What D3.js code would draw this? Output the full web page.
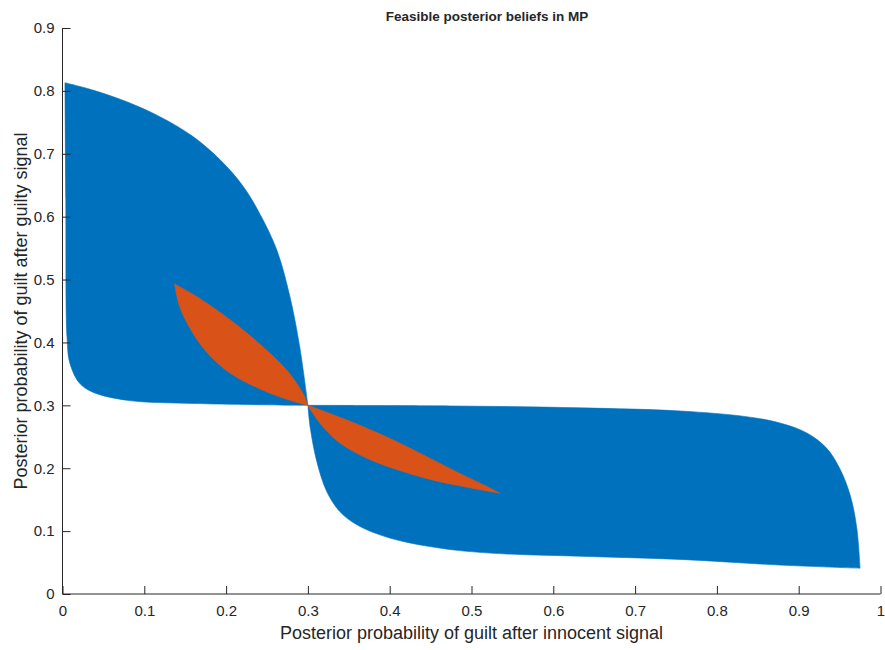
<!DOCTYPE html>
<html>
<head>
<meta charset="utf-8">
<script src="https://cdn.jsdelivr.net/npm/d3@7"></script>
<style>
  html, body { margin: 0; padding: 0; background: #fff; }
  svg { display: block; }
  text { font-family: "Liberation Sans", Arial, Helvetica, sans-serif; fill: #262626; }
</style>
</head>
<body>
<svg id="chart" width="885" height="650"></svg>
<script>
// ---- Data ----
const xTicks = [0, 0.1, 0.2, 0.3, 0.4, 0.5, 0.6, 0.7, 0.8, 0.9, 1];
const yTicks = [0, 0.1, 0.2, 0.3, 0.4, 0.5, 0.6, 0.7, 0.8, 0.9];

// Blue feasible region: upper-left lobe (top curve then left/bottom edge back)
const blueTopCurve = [
  [0.003, 0.813], [0.038, 0.801], [0.078, 0.783], [0.119, 0.759], [0.160, 0.727],
  [0.193, 0.690], [0.221, 0.648], [0.241, 0.605], [0.262, 0.547], [0.278, 0.473],
  [0.290, 0.393], [0.300, 0.300]
];
const blueLeftEdge = [
  [0.300, 0.300], [0.160, 0.303], [0.079, 0.308], [0.037, 0.321], [0.021, 0.335],
  [0.009, 0.367], [0.0055, 0.409], [0.004, 0.626], [0.003, 0.813]
];
// Blue feasible region: lower-right lobe (top edge then bottom curve back)
const blueRightTop = [
  [0.300, 0.300], [0.474, 0.299], [0.633, 0.296], [0.755, 0.291], [0.836, 0.282],
  [0.877, 0.272], [0.910, 0.256], [0.934, 0.232], [0.950, 0.200], [0.963, 0.157],
  [0.971, 0.105], [0.975, 0.041]
];
const blueBottomCurve = [
  [0.975, 0.041], [0.877, 0.046], [0.755, 0.055], [0.633, 0.060], [0.523, 0.065],
  [0.461, 0.073], [0.400, 0.089], [0.360, 0.110], [0.339, 0.131], [0.323, 0.163],
  [0.311, 0.210], [0.303, 0.263], [0.300, 0.300]
];

// Orange region: upper-left lens
const orangeUpperA = [
  [0.137, 0.493], [0.164, 0.473], [0.205, 0.436], [0.245, 0.393], [0.274, 0.356],
  [0.294, 0.319], [0.300, 0.300]
];
const orangeUpperB = [
  [0.300, 0.300], [0.278, 0.308], [0.245, 0.324], [0.205, 0.351], [0.176, 0.385],
  [0.156, 0.422], [0.143, 0.458], [0.137, 0.493]
];
// Orange region: lower-right lens
const orangeLowerA = [
  [0.300, 0.300], [0.327, 0.287], [0.368, 0.266], [0.409, 0.242], [0.449, 0.216],
  [0.490, 0.189], [0.519, 0.171], [0.535, 0.160]
];
const orangeLowerB = [
  [0.535, 0.160], [0.494, 0.170], [0.453, 0.181], [0.413, 0.196],
  [0.372, 0.216], [0.339, 0.240], [0.315, 0.271], [0.300, 0.300]
];

const titleText = "Feasible posterior beliefs in MP";
const xLabel = "Posterior probability of guilt after innocent signal";
const yLabel = "Posterior probability of guilt after guilty signal";

// ---- Layout ----
const svg = d3.select("#chart");
const plotLeft = 62.5, plotRight = 880.5, plotTop = 28, plotBottom = 594;
const x = d3.scaleLinear().domain([0, 1]).range([plotLeft, plotRight]);
const y = d3.scaleLinear().domain([0, 0.9]).range([plotBottom, plotTop]);

const line = d3.line().x(d => x(d[0])).y(d => y(d[1])).curve(d3.curveCatmullRom.alpha(0.5));

function lensShape(a, b, color) {
  const pa = line(a);
  const pb = line(b).replace(/^M[^CL]*/, "L" + x(b[0][0]) + "," + y(b[0][1]));
  svg.append("path")
    .attr("d", pa + pb + "Z")
    .attr("fill", color)
    .attr("stroke", color)
    .attr("stroke-width", 0.6)
    .attr("stroke-linejoin", "round");
}

const blue = "#0072BD", orange = "#D95319";
lensShape(blueTopCurve, blueLeftEdge, blue);
lensShape(blueRightTop, blueBottomCurve, blue);
lensShape(orangeUpperA, orangeUpperB, orange);
lensShape(orangeLowerA, orangeLowerB, orange);

// ---- Axes ----
const axisColor = "#262626";
const tickLen = 8;

const xAxis = d3.axisBottom(x).tickValues(xTicks).tickSize(-tickLen).tickPadding(11)
  .tickFormat(d => d3.format("")(d));
const gx = svg.append("g").attr("transform", `translate(0,${plotBottom})`).call(xAxis);
gx.select(".domain").attr("stroke", axisColor).attr("d", `M${plotLeft},0H${plotRight}`);
gx.selectAll(".tick line").attr("stroke", axisColor);
gx.selectAll(".tick text").attr("font-size", 15).attr("fill", axisColor)
  .attr("font-family", "Liberation Sans, Arial, sans-serif");

const yAxis = d3.axisLeft(y).tickValues(yTicks).tickSize(-tickLen).tickPadding(8)
  .tickFormat(d => d3.format("")(d));
const gy = svg.append("g").attr("transform", `translate(${plotLeft},0)`).call(yAxis);
gy.select(".domain").attr("stroke", axisColor).attr("d", `M0,${plotBottom}V${plotTop}`);
gy.selectAll(".tick line").attr("stroke", axisColor);
gy.selectAll(".tick text").attr("font-size", 15).attr("fill", axisColor)
  .attr("font-family", "Liberation Sans, Arial, sans-serif");

// ---- Labels ----
svg.append("text")
  .attr("x", 487).attr("y", 21)
  .attr("text-anchor", "middle").attr("font-size", 13.5).attr("font-weight", "bold")
  .attr("fill", "#000")
  .text(titleText);

svg.append("text")
  .attr("x", (plotLeft + plotRight) / 2).attr("y", 639)
  .attr("text-anchor", "middle").attr("font-size", 18)
  .text(xLabel);

svg.append("text")
  .attr("transform", `translate(27,${(plotTop + plotBottom) / 2}) rotate(-90)`)
  .attr("text-anchor", "middle").attr("font-size", 18)
  .text(yLabel);
</script>
</body>
</html>
